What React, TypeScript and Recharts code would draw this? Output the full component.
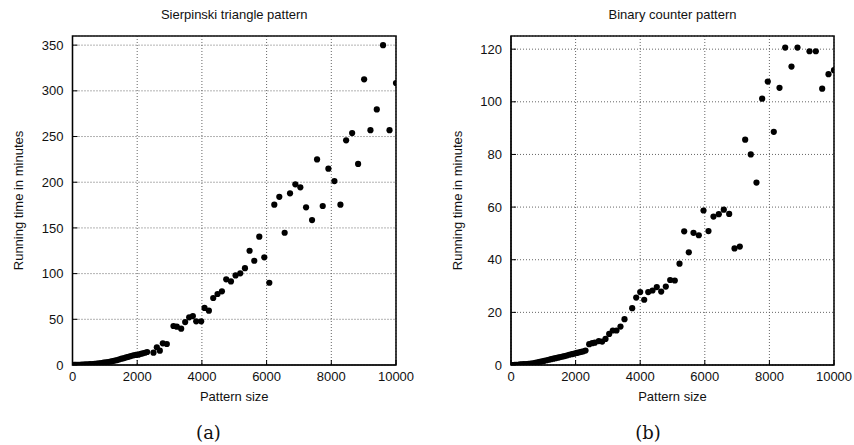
import React from "react";
import {
  ScatterChart,
  Scatter,
  XAxis,
  YAxis,
  CartesianGrid,
  ReferenceArea,
  Label,
} from "recharts";

// Sierpinski triangle pattern: pattern size vs running time (minutes)
const sierpinskiSize = [
  10, 40, 80, 120, 170, 220, 280, 340, 400, 470, 540, 610, 680, 750, 820, 890,
  960, 1030, 1100, 1170, 1240, 1310, 1380, 1450, 1520, 1594, 1660, 1728, 1800,
  1882, 1960, 2037, 2110, 2173, 2240, 2307, 2503, 2607, 2700, 2792, 2916, 3121,
  3225, 3359, 3483, 3607, 3721, 3824, 3978, 4081, 4216, 4350, 4483, 4619, 4752,
  4898, 5041, 5186, 5331, 5474, 5619, 5774, 5929, 6084, 6238, 6393, 6558, 6724,
  6889, 7043, 7220, 7405, 7560, 7735, 7910, 8096, 8282, 8458, 8644, 8829, 9015,
  9210, 9406, 9600, 9800, 10000,
];
const sierpinskiMinutes = [
  0, 0.1, 0.1, 0.2, 0.2, 0.3, 0.4, 0.5, 0.6, 0.7, 0.9, 1.1, 1.3, 1.6, 1.9, 2.2,
  2.5, 2.9, 3.3, 3.8, 4.3, 4.8, 5.4, 6.2, 6.9, 7.6, 8.4, 9.0, 9.8, 10.6, 11.0,
  11.3, 12.2, 12.8, 13.4, 14.2, 13.5, 19.4, 15.7, 23.7, 23, 42.7, 41.9, 39.7, 47,
  52.2, 53.6, 47.8, 47.8, 62.4, 59.4, 73.3, 77.7, 80.6, 93.7, 91.5, 98, 100.3,
  106, 125, 114.1, 140.4, 117.8, 90, 175.4, 184, 144.7, 187.8, 197.7, 194.4,
  172.5, 158.6, 225, 174, 214.8, 201.3, 175.4, 245.8, 253.8, 220, 312.6, 257,
  279.7, 350, 257, 308.5,
];

// Binary counter pattern
const binarySize = [
  10, 40, 80, 120, 170, 220, 280, 340, 400, 470, 540, 610, 680, 750, 820, 890,
  960, 1030, 1100, 1170, 1240, 1310, 1380, 1450, 1520, 1594, 1660, 1728, 1800,
  1882, 1960, 2037, 2110, 2173, 2240, 2307, 2421, 2514, 2594, 2718, 2823, 2926,
  3040, 3152, 3266, 3390, 3514, 3752, 3876, 4000, 4124, 4248, 4381, 4514, 4650,
  4793, 4928, 5071, 5217, 5362, 5505, 5650, 5814, 5960, 6114, 6269, 6433, 6588,
  6755, 6920, 7084, 7250, 7424, 7600, 7776, 7950, 8136, 8313, 8489, 8684, 8870,
  9241, 9437, 9634, 9830, 10000,
];
const binaryMinutes = [
  0, 0, 0, 0.1, 0.1, 0.1, 0.2, 0.2, 0.3, 0.3, 0.4, 0.5, 0.6, 0.8, 1.0, 1.2, 1.4,
  1.6, 1.8, 2.0, 2.2, 2.4, 2.6, 2.8, 3.0, 3.2, 3.4, 3.6, 3.9, 4.1, 4.3, 4.6, 4.8,
  5.0, 5.2, 5.5, 7.9, 8.3, 8.5, 9.1, 8.9, 9.9, 11.8, 13.1, 13.1, 14.6, 17.4,
  21.6, 25.6, 27.7, 24.8, 27.7, 28.3, 29.6, 27.9, 29.8, 32.3, 32.1, 38.5, 50.8,
  42.8, 50.2, 49.3, 58.7, 50.9, 56.4, 57.3, 59, 57.4, 44.3, 45, 85.6, 80, 69.3,
  101.2, 107.7, 88.6, 105.3, 120.6, 113.4, 120.6, 119.2, 119.2, 105, 110.5, 112,
];

const xTicks = [0, 2000, 4000, 6000, 8000, 10000];
const sierpinskiTicks = [0, 50, 100, 150, 200, 250, 300, 350];
const binaryTicks = [0, 20, 40, 60, 80, 100, 120];

const font = "'Liberation Sans', Arial, Helvetica, sans-serif";
const tickStyle = { fontSize: 13, fill: "#111", fontFamily: font };

const zip = (xs: number[], ys: number[]) => xs.map((x, i) => ({ x, y: ys[i] }));

const Dot = (p: any) => <circle cx={p.cx} cy={p.cy} r={3.1} fill="#000" />;

interface PanelProps {
  title: string;
  caption: string;
  data: { x: number; y: number }[];
  yMax: number;
  yTicks: number[];
  yAxisWidth: number;
  rightMargin: number;
  labelOffset: number;
  left: number;
  captionX: number;
}

function Panel(props: PanelProps) {
  const { title, caption, data, yMax, yTicks, yAxisWidth, rightMargin, labelOffset, left, captionX } = props;
  const plotLeft = yAxisWidth;
  const plotRight = 427 - rightMargin;
  return (
    <div style={{ position: "absolute", left, top: 0, width: 427, height: 445 }}>
      <div
        style={{
          position: "absolute",
          top: 7,
          left: plotLeft,
          width: plotRight - plotLeft,
          textAlign: "center",
          fontFamily: font,
          fontSize: 13,
          lineHeight: "15px",
          color: "#111",
        }}
      >
        {title}
      </div>
      <ScatterChart
        width={427}
        height={445}
        margin={{ top: 36, right: rightMargin, bottom: 60, left: 0 }}
      >
        <CartesianGrid stroke="#555" strokeDasharray="1 2" strokeWidth={0.9} />
        <XAxis
          type="number"
          dataKey="x"
          domain={[0, 10000]}
          ticks={xTicks}
          height={20}
          tick={tickStyle}
          tickSize={-5}
          tickMargin={12}
          tickLine={{ stroke: "#000" }}
          axisLine={{ stroke: "#000" }}
          allowDataOverflow
        >
          <Label
            value="Pattern size"
            position="bottom"
            offset={7}
            style={{ fontSize: 13, fill: "#111", fontFamily: font }}
          />
        </XAxis>
        <XAxis
          xAxisId="top"
          orientation="top"
          type="number"
          dataKey="x"
          domain={[0, 10000]}
          ticks={xTicks}
          height={0}
          tick={false}
          tickSize={-5}
          tickLine={{ stroke: "#000" }}
          axisLine={false}
          allowDataOverflow
        />
        <YAxis
          type="number"
          dataKey="y"
          domain={[0, yMax]}
          ticks={yTicks}
          width={yAxisWidth}
          tick={tickStyle}
          tickSize={-5}
          tickMargin={14}
          tickLine={{ stroke: "#000" }}
          axisLine={{ stroke: "#000" }}
          allowDataOverflow
        >
          <Label
            value="Running time in minutes"
            angle={-90}
            position="insideLeft"
            offset={labelOffset}
            style={{ textAnchor: "middle", fontSize: 13, fill: "#111", fontFamily: font }}
          />
        </YAxis>
        <YAxis
          yAxisId="right"
          orientation="right"
          type="number"
          dataKey="y"
          domain={[0, yMax]}
          ticks={yTicks}
          width={0}
          tick={false}
          tickSize={-5}
          tickLine={{ stroke: "#000" }}
          axisLine={false}
          allowDataOverflow
        />
        <ReferenceArea
          x1={0}
          x2={10000}
          y1={0}
          y2={yMax}
          fill="none"
          stroke="#111"
          strokeWidth={1.6}
          ifOverflow="visible"
        />
        <Scatter data={data} fill="#000" shape={Dot} isAnimationActive={false} />
      </ScatterChart>
      <div
        style={{
          position: "absolute",
          top: 421,
          left: captionX - 40,
          width: 80,
          textAlign: "center",
          fontFamily: "'DejaVu Serif', serif",
          fontSize: 18,
          lineHeight: "24px",
          color: "#111",
        }}
      >
        {caption}
      </div>
    </div>
  );
}

export default function App() {
  return (
    <div style={{ position: "absolute", left: 0, top: 0, width: 854, height: 445, background: "#fff" }}>
      <Panel
        title="Sierpinski triangle pattern"
        caption="(a)"
        data={zip(sierpinskiSize, sierpinskiMinutes)}
        yMax={360}
        yTicks={sierpinskiTicks}
        yAxisWidth={72.5}
        rightMargin={31}
        labelOffset={18}
        left={0}
        captionX={208.5}
      />
      <Panel
        title="Binary counter pattern"
        caption="(b)"
        data={zip(binarySize, binaryMinutes)}
        yMax={125}
        yTicks={binaryTicks}
        yAxisWidth={84}
        rightMargin={20}
        labelOffset={30.5}
        left={427}
        captionX={221}
      />
    </div>
  );
}
